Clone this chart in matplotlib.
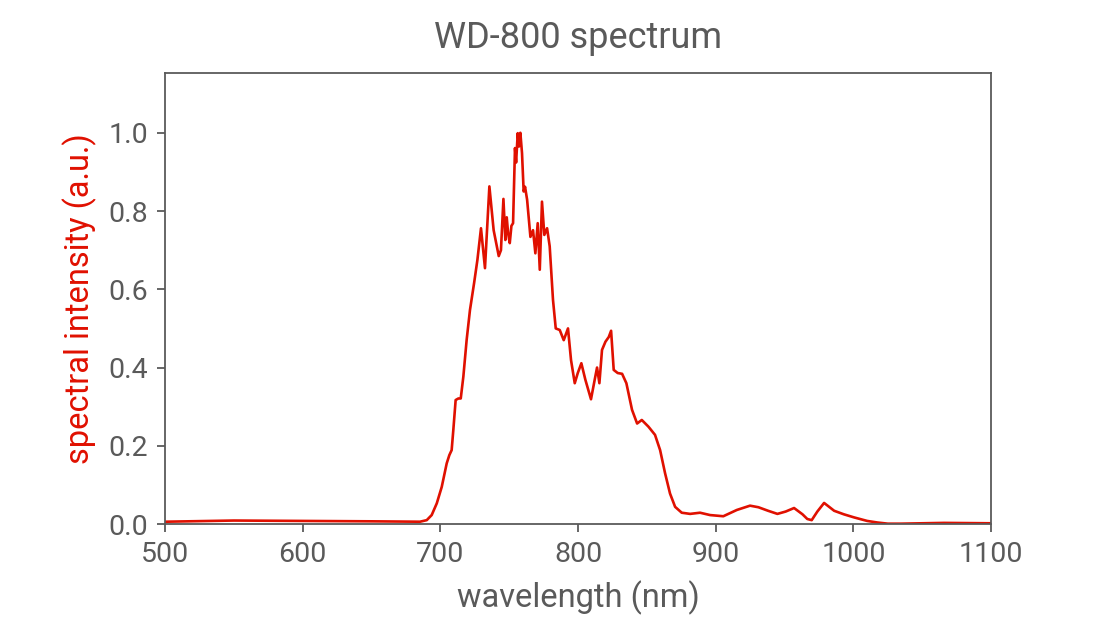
import numpy as np
import matplotlib
matplotlib.use("Agg")
import matplotlib.pyplot as plt

# values
wavelength = [500, 550, 600, 650, 685.2, 690.1, 693.7, 697.4, 701, 704.6, 706.5, 708.2,
              709.4, 711.1, 713.1, 714.8, 716.7, 719.1, 721.5, 724.5, 726.9, 729.5,
              732.4, 735.6, 738.7, 742.4, 744, 745.8, 747.2, 748.2, 749.2, 750.4,
              751.6, 752.8, 754.2, 755, 756.2, 757.1, 758.1, 759.3, 760.5, 761.5,
              763, 765.4, 767.3, 769, 770.7, 772.2, 773.8, 775.5, 777.5, 779.4,
              781.8, 783.8, 786.7, 789.6, 792.7, 794.9, 797.6, 799.8, 802.4, 805.3,
              809.4, 812.1, 813.8, 815.5, 817.4, 819.9, 822.3, 824, 825.9, 828.8,
              832, 835.1, 839.2, 842.9, 846.3, 851.1, 855.9, 859.6, 863.2, 866.8,
              870.5, 875.3, 881.4, 888.6, 895.9, 905.5, 915.3, 924.9, 931, 938,
              944.8, 950.8, 956.9, 963, 966.5, 969.7, 973.8, 978.7, 982, 986,
              993, 1000.5, 1010, 1017.4, 1025, 1034.3, 1065.8, 1100]
intensity = [0.006, 0.009, 0.008, 0.007, 0.006, 0.010, 0.023, 0.053, 0.095, 0.155, 0.176, 0.189,
             0.24, 0.317, 0.321, 0.321, 0.377, 0.471, 0.547, 0.616, 0.675, 0.756,
             0.654, 0.863, 0.751, 0.685, 0.70, 0.831, 0.726, 0.784, 0.743, 0.718,
             0.762, 0.769, 0.961, 0.924, 0.999, 0.965, 1.0, 0.948, 0.85, 0.862,
             0.829, 0.734, 0.751, 0.692, 0.769, 0.65, 0.824, 0.739, 0.756, 0.71,
             0.573, 0.50, 0.496, 0.47, 0.50, 0.419, 0.36, 0.386, 0.411, 0.369,
             0.319, 0.369, 0.40, 0.36, 0.445, 0.466, 0.478, 0.494, 0.394, 0.386,
             0.384, 0.36, 0.292, 0.257, 0.266, 0.249, 0.228, 0.189, 0.13, 0.078,
             0.044, 0.029, 0.026, 0.029, 0.023, 0.020, 0.036, 0.047, 0.043, 0.034,
             0.026, 0.032, 0.041, 0.025, 0.013, 0.010, 0.032, 0.054, 0.045, 0.034,
             0.025, 0.017, 0.008, 0.004, 0.001, 0.001, 0.003, 0.002]

x_ticks = [500, 600, 700, 800, 900, 1000, 1100]
y_ticks = [0.0, 0.2, 0.4, 0.6, 0.8, 1.0]

gray = "#5a5a5a"
red = "#e01000"

plt.rcParams["font.family"] = ["Roboto", "DejaVu Sans"]

fig = plt.figure(figsize=(11, 6.18), dpi=100)
ax = fig.add_axes([0.15, 0.152, 0.751, 0.73])

ax.plot(wavelength, intensity, color=red, lw=1.9, solid_joinstyle="round")

ax.set_xlim(500, 1100)
ax.set_ylim(0, 1.153)
ax.set_xticks(x_ticks)
ax.set_yticks(y_ticks)
ax.set_yticklabels([f"{v:.1f}" for v in y_ticks])

for s in ax.spines.values():
    s.set_color(gray)
    s.set_linewidth(1.3)
ax.tick_params(colors=gray, labelsize=20.5, length=6, width=1.3, pad=6,
               direction="out")

ax.set_xlabel("wavelength (nm)", fontsize=23.5, color=gray, labelpad=9)
ax.set_ylabel("spectral intensity (a.u.)", fontsize=23.5, color=red, labelpad=8)
ax.set_title("WD-800 spectrum", fontsize=26, color=gray, pad=18)

fig.savefig("out.png", dpi=100)
